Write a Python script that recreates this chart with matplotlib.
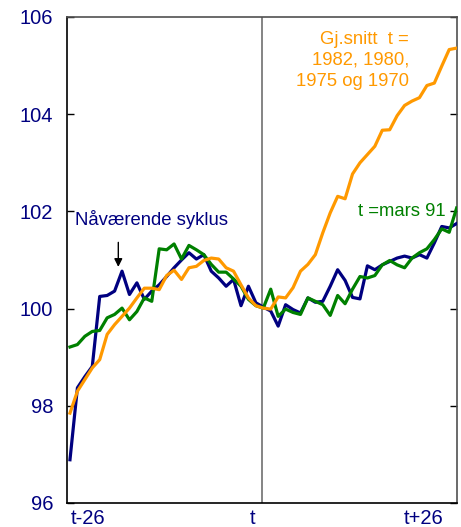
import numpy as np
import matplotlib
matplotlib.use("Agg")
import matplotlib.pyplot as plt

plt.rcParams['font.family'] = ['Liberation Sans', 'DejaVu Sans']

# months relative to t
periods = np.arange(-26, 27)

navaerende = [96.89, 98.37, 98.60, 98.81, 100.25, 100.27, 100.36, 100.77, 100.29, 100.53,
              100.19, 100.36, 100.49, 100.66, 100.84, 101.00, 101.15, 101.02, 101.11, 100.77,
              100.63, 100.46, 100.60, 100.06, 100.46, 100.12, 100.03, 99.95, 99.64, 100.08,
              99.98, 99.91, 100.22, 100.13, 100.15, 100.46, 100.80, 100.58, 100.23, 100.20,
              100.88, 100.80, 100.90, 100.97, 101.04, 101.08, 101.04, 101.11, 101.04, 101.35,
              101.69, 101.66, 101.75]

mars91 = [99.21, 99.26, 99.43, 99.53, 99.55, 99.81, 99.88, 100.01, 99.77, 99.94,
          100.22, 100.15, 101.23, 101.21, 101.33, 101.02, 101.30, 101.21, 101.11, 100.91,
          100.75, 100.75, 100.61, 100.46, 100.19, 100.06, 100.01, 100.40, 99.84, 99.99,
          99.92, 99.88, 100.22, 100.15, 100.08, 99.86, 100.27, 100.10, 100.40, 100.66,
          100.63, 100.68, 100.90, 100.99, 100.90, 100.84, 101.04, 101.15, 101.23, 101.42,
          101.64, 101.57, 102.07]

gjsnitt = [97.85, 98.30, 98.54, 98.78, 98.95, 99.47, 99.67, 99.84, 100.01, 100.22,
           100.42, 100.42, 100.39, 100.68, 100.79, 100.60, 100.84, 100.87, 100.99, 101.04,
           101.02, 100.84, 100.77, 100.49, 100.22, 100.06, 100.01, 99.99, 100.24, 100.22,
           100.43, 100.77, 100.91, 101.11, 101.56, 101.97, 102.31, 102.26, 102.77, 103.00,
           103.17, 103.34, 103.67, 103.68, 103.97, 104.18, 104.27, 104.34, 104.59, 104.64,
           104.99, 105.33, 105.36]

y_ticks = [96, 98, 100, 102, 104, 106]
x_labels = ['t-26', 't', 't+26']
x_label_pos = [-23.6, -1.5, 21.5]

navy = '#000080'
green = '#008000'
orange = '#FF9900'

fig = plt.figure(figsize=(4.61, 5.27), dpi=100)
ax = fig.add_axes([67 / 461, 24 / 527, 390 / 461, 486 / 527])

ax.axvline(-0.2, color='#707070', lw=1.2, zorder=1)
ax.plot(periods, navaerende, color=navy, lw=2.3, zorder=3)
ax.plot(periods, mars91, color=green, lw=2.3, zorder=3)
ax.plot(periods, gjsnitt, color=orange, lw=2.3, zorder=3)

ax.set_xlim(-26.4, 26.05)
ax.set_ylim(96, 106)

ax.set_yticks(y_ticks)
ax.set_yticklabels([str(v) for v in y_ticks])
ax.tick_params(axis='y', direction='in', length=5, width=1, pad=10,
               labelsize=14.5, labelcolor=navy, right=True)
ax.set_xticks(x_label_pos)
ax.set_xticklabels(x_labels)
ax.tick_params(axis='x', length=0, pad=4, labelsize=14.5, labelcolor=navy)

for side in ['left', 'bottom']:
    ax.spines[side].set_color('black')
    ax.spines[side].set_linewidth(1.2)
for side in ['top', 'right']:
    ax.spines[side].set_color('#505050')
    ax.spines[side].set_linewidth(1.2)

ax.text(-25.3, 101.83, 'Nåværende syklus', color=navy, fontsize=13.3,
        ha='left', va='center')
ax.annotate('', xy=(-19.5, 100.80), xytext=(-19.5, 101.42),
            arrowprops=dict(arrowstyle='-|>', color='black', lw=1, mutation_scale=12))
ax.text(24.55, 102.0, 't =mars 91', color=green, fontsize=13.3,
        ha='right', va='center')
ax.text(19.6, 105.72, 'Gj.snitt  t =\n1982, 1980,\n1975 og 1970', color=orange,
        fontsize=13.3, ha='right', va='top', multialignment='right', linespacing=1.32)

fig.savefig('out.png', dpi=100)
